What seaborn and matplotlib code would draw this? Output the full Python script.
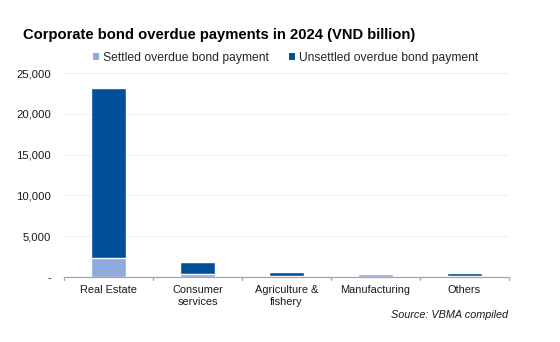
import matplotlib
matplotlib.use("Agg")
import matplotlib.pyplot as plt
import seaborn as sns
import pandas as pd
from matplotlib.patches import Patch
from matplotlib.ticker import FuncFormatter

categories = ["Real Estate", "Consumer\nservices", "Agriculture &\nfishery", "Manufacturing", "Others"]
settled = [2340, 290, 60, 280, 70]
unsettled = [20820, 1480, 500, 20, 380]
yticks = [0, 5000, 10000, 15000, 20000, 25000]

title = "Corporate bond overdue payments in 2024 (VND billion)"
legend_labels = ["Settled overdue bond payment", "Unsettled overdue bond payment"]
source = "Source: VBMA compiled"

dark = "#03509A"
light = "#8FAADC"

sns.set_theme(style="white")
plt.rcParams["font.family"] = ["Liberation Sans", "DejaVu Sans"]

df = pd.DataFrame({"category": categories, "settled": settled, "unsettled": unsettled})
df["total"] = df["settled"] + df["unsettled"]

W, H = 560, 342
fig = plt.figure(figsize=(5.6, 3.42), dpi=100)
ax = fig.add_axes([64 / W, 1 - 276.7 / H, 445 / W, 203.4 / H])

sns.barplot(data=df, x="category", y="total", color=dark, width=0.4, saturation=1, ax=ax, order=categories)
sns.barplot(data=df, x="category", y="settled", color=light, width=0.4, saturation=1, ax=ax, order=categories)

ax.set_ylim(0, 25000)
ax.set_xlim(-0.5, len(categories) - 0.5)
ax.set_yticks(yticks)
ax.yaxis.set_major_formatter(FuncFormatter(lambda v, p: "-" if v == 0 else f"{int(v):,}"))
ax.grid(axis="y", color="#EFEFEF", linewidth=0.8)
ax.set_axisbelow(True)
for s in ["top", "right", "left"]:
    ax.spines[s].set_visible(False)
ax.spines["bottom"].set_color("#A6A6A6")
ax.spines["bottom"].set_linewidth(0.9)
ax.set_xlabel("")
ax.set_ylabel("")
ax.tick_params(axis="y", length=0, labelsize=8.1, pad=9.4, colors="#1a1a1a")
ax.tick_params(axis="x", length=0, labelsize=7.9, pad=6.3, colors="#1a1a1a")
for xb in [i - 0.5 for i in range(len(categories) + 1)]:
    ax.plot([xb, xb], [0, -0.016], transform=ax.get_xaxis_transform(), color="#A6A6A6", lw=0.9, clip_on=False)

fig.text(23 / W, 1 - 39.5 / H, title, fontsize=10.6, fontweight="bold", va="baseline", ha="left", color="black")

handles = [Patch(facecolor=light, edgecolor="none"), Patch(facecolor=dark, edgecolor="none")]
fig.legend(handles, legend_labels, loc="center left", bbox_to_anchor=(93 / W, 1 - 57.5 / H), ncol=2,
           frameon=False, fontsize=8.75, handlelength=0.5, handleheight=0.5, handletextpad=0.35,
           columnspacing=1.6, borderaxespad=0, borderpad=0)

fig.text(508 / W, 1 - 315 / H, source, fontsize=7.8, style="italic", ha="right", va="center", color="#1a1a1a")

fig.savefig("out.png", dpi=100)
